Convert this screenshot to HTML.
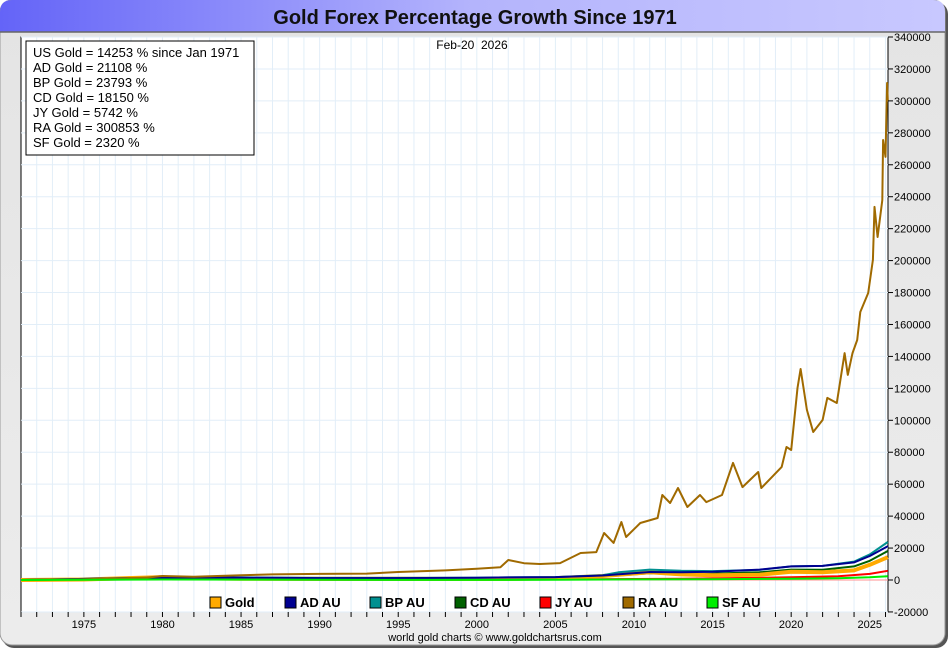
<!DOCTYPE html>
<html><head><meta charset="utf-8"><style>
body{margin:0;width:950px;height:650px;overflow:hidden;background:#fff;font-family:"Liberation Sans",sans-serif}
</style></head><body>
<svg id="c" width="950" height="650" xmlns="http://www.w3.org/2000/svg">
<defs>
<linearGradient id="tg" x1="0" x2="1" y1="0" y2="0"><stop offset="0" stop-color="#6464f8"/><stop offset="0.5" stop-color="#b4b4fc"/><stop offset="1" stop-color="#c8c8ff"/></linearGradient>
<linearGradient id="bg" x1="0" x2="0" y1="0" y2="1"><stop offset="0" stop-color="#e4e4e4"/><stop offset="1" stop-color="#ececec"/></linearGradient>
</defs>
<rect x="2" y="2" width="946" height="646" rx="12" fill="#555"/>
<rect x="0" y="0" width="945" height="645" rx="12" fill="url(#bg)" stroke="#999"/>
<path d="M12,0 H933 Q945,0 945,12 V32 H0 V12 Q0,0 12,0 Z" fill="url(#tg)"/>
<line x1="0" y1="32" x2="945" y2="32" stroke="#666" stroke-width="1.5"/>
<text x="475" y="24" text-anchor="middle" font-size="20" font-weight="bold" fill="#111">Gold Forex Percentage Growth Since 1971</text>
<rect x="21" y="37" width="867" height="575" fill="#fff" stroke="#000"/>
<g id="grid"></g><g id="series"></g><g id="axes"></g>
<text x="472" y="49" text-anchor="middle" font-size="12" xml:space="preserve">Feb-20  2026</text>
<g>
<rect x="26" y="41" width="228" height="114" fill="#fff" stroke="#000"/>
<g font-size="13" fill="#000">
<text x="33" y="57">US Gold = 14253 % since Jan 1971</text>
<text x="33" y="72">AD Gold = 21108 %</text>
<text x="33" y="87">BP Gold = 23793 %</text>
<text x="33" y="102">CD Gold = 18150 %</text>
<text x="33" y="117">JY Gold = 5742 %</text>
<text x="33" y="132">RA Gold = 300853 %</text>
<text x="33" y="147">SF Gold = 2320 %</text>
</g></g>
<g id="legend"></g>
<text x="495" y="641" text-anchor="middle" font-size="11">world gold charts © www.goldchartsrus.com</text>
</svg>
<script>
const yTicks=[-20000,0,20000,40000,60000,80000,100000,120000,140000,160000,180000,200000,220000,240000,260000,280000,300000,320000,340000];
const xLabels=[1975,1980,1985,1990,1995,2000,2005,2010,2015,2020,2025];
const seriesNames=["Gold","AD AU","BP AU","CD AU","JY AU","RA AU","SF AU"];
const seriesColors=["#ffaa00","#000090","#009090","#006000","#ff0000","#a06a00","#00ee00"];
const goldYears=[1971,1975,1980,1981,1985,1990,1995,2000,2002,2005,2008,2011,2013,2015,2018,2020,2022,2024,2025,2026.15];
const goldVals=[0,300,1800,1200,800,800,800,600,700,1200,2500,4800,3500,3000,3300,5200,4800,6000,9500,14253];
const adYears=[1971,1980,1985,1990,1995,2000,2002,2005,2008,2011,2013,2015,2018,2020,2022,2024,2025,2026.15];
const adVals=[0,1500,1500,1200,1200,1400,1600,1800,2800,5000,4800,5200,6500,8500,8800,11000,15000,21108];
const bpYears=[1971,1980,1985,1990,1995,2000,2002,2005,2008,2009,2011,2013,2015,2018,2020,2022,2024,2025,2026.15];
const bpVals=[0,1500,1600,1300,1300,1400,1600,1800,3000,4800,6500,5800,5600,6300,8500,8800,11500,16000,23793];
const cdYears=[1971,1980,1985,1990,1995,2000,2002,2005,2008,2011,2013,2015,2018,2020,2022,2024,2025,2026.15];
const cdVals=[0,1500,1300,1000,1000,1200,1400,1300,2200,4200,3600,4000,4800,6500,6400,8500,12000,18150];
const jyYears=[1971,1980,1985,1990,1995,2000,2005,2010,2013,2015,2020,2023,2025,2026.15];
const jyVals=[0,400,300,200,150,100,300,600,800,1000,1700,2400,3800,5742];
const sfYears=[1971,1980,1990,2000,2005,2010,2015,2020,2023,2025,2026.15];
const sfVals=[0,300,100,50,150,400,500,800,1100,1700,2320];
const raYears=[1971,1975,1979,1980,1982,1985,1987,1990,1993,1995,1998,2000,2001.5,2002,2003,2004,2005.3,2006.6,2007.6,2008.1,2008.7,2009.2,2009.5,2010.4,2011.5,2011.8,2012.3,2012.8,2013.4,2014.2,2014.6,2015.6,2016.3,2016.9,2017.9,2018.1,2019.4,2019.7,2020.0,2020.4,2020.6,2021.0,2021.4,2022.0,2022.3,2022.9,2023.4,2023.6,2023.9,2024.2,2024.4,2024.9,2025.2,2025.3,2025.5,2025.8,2025.85,2026.0,2026.1,2026.15];
const raVals=[0,500,1500,2500,2000,3000,3500,3800,4000,5000,6000,7000,8000,12500,10500,10000,10600,16900,17500,29400,23200,36300,26900,35700,38800,53200,48200,57600,45700,53200,48800,53200,73300,58200,67600,57600,70800,83300,81400,120200,132100,106500,92700,100200,114000,110800,142100,128400,142100,150300,167800,179700,200400,233600,214800,237900,275500,264900,311200,300000];
const SNS="http://www.w3.org/2000/svg";
const X0=21,X1=888,Y0=37,Y1=612;
function xs(yr){return X0+(yr-1971)*(X1-X0)/(2026.16-1971);}
function ys(v){return 580-v*(580-37)/340000;}
function mk(t,a,p){const e=document.createElementNS(SNS,t);for(const k in a)e.setAttribute(k,a[k]);p.appendChild(e);return e;}
const grid=document.getElementById('grid'),axes=document.getElementById('axes'),ser=document.getElementById('series'),leg=document.getElementById('legend');
for(let y=1972;y<=2026;y++){const l=mk('line',{x1:xs(y),x2:xs(y),y1:Y0,y2:Y1,stroke:'#e2eef8'},grid);

}
yTicks.forEach(v=>{const y=ys(v);const l=mk('line',{x1:X0,x2:X1,y1:y,y2:y,stroke:'#e2eef8'},grid);


mk('line',{x1:X1,x2:X1+5,y1:y,y2:y,stroke:'#000'},axes);
const t=mk('text',{x:X1+6,y:y+4,'font-size':11},axes);t.textContent=v;

});
mk('line',{x1:X0,x2:X1,y1:580,y2:580,stroke:'#ff9090'},grid);
for(let y=1971;y<=2026;y++){mk('line',{x1:xs(y),x2:xs(y),y1:Y1,y2:Y1+5,stroke:'#000'},axes);}
xLabels.forEach(y=>{const t=mk('text',{x:xs(y),y:628,'font-size':11,'text-anchor':'middle'},axes);t.textContent=y;

});
function line(xsA,vs,col,w,name){const d=xsA.map((x,i)=>(i?'L':'M')+xs(x).toFixed(1)+','+ys(vs[i]).toFixed(1)).join('');
const p=mk('path',{d:d,fill:'none',stroke:col,'stroke-width':w,'stroke-linejoin':'round'},ser);

}
line(jyYears,jyVals,seriesColors[4],2,'jy-line');
line(cdYears,cdVals,seriesColors[3],2,'cd-line');
line(goldYears,goldVals,seriesColors[0],4,'gold-line');
line(bpYears,bpVals,seriesColors[2],2,'bp-line');
line(adYears,adVals,seriesColors[1],2,'ad-line');
line(raYears,raVals,seriesColors[5],2,'ra-line');
line(sfYears,sfVals,seriesColors[6],2,'sf-line');
const lx=[210,285,370,455,540,623,707];
seriesNames.forEach((n,i)=>{const g=mk('g',{},leg);


mk('rect',{x:lx[i],y:597,width:11,height:11,fill:seriesColors[i],stroke:'#000'},g);
const t=mk('text',{x:lx[i]+15,y:607,'font-size':13,'font-weight':'bold'},g);t.textContent=n;});
</script>
</body></html>
